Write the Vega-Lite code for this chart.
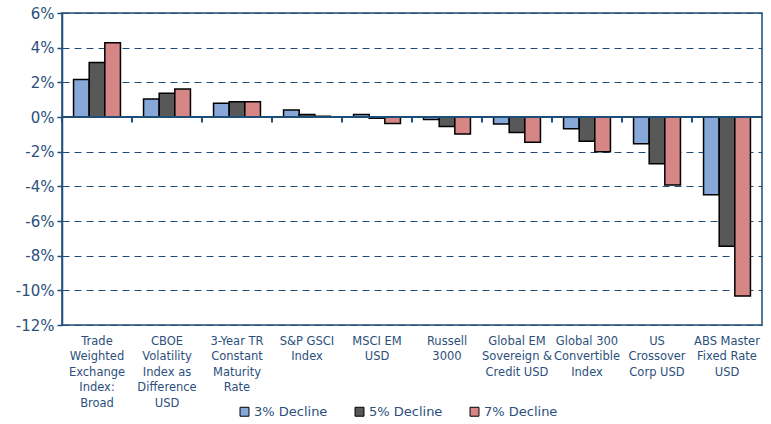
{
  "$schema": "https://vega.github.io/schema/vega-lite/v6.json",
  "width": 700,
  "height": 312,
  "autosize": "none",
  "padding": {"left": 62, "top": 13, "right": 9, "bottom": 99},
  "config": {"view": {"stroke": "#1f4e79", "strokeWidth": 1.5}, "font": "DejaVu Sans", "axisY": {"tickCount": 10}},
  "data": {"values": [
    {"category": "Trade|Weighted|Exchange|Index:|Broad", "scenario": "3% Decline", "value": 0.0217},
    {"category": "Trade|Weighted|Exchange|Index:|Broad", "scenario": "5% Decline", "value": 0.0315},
    {"category": "Trade|Weighted|Exchange|Index:|Broad", "scenario": "7% Decline", "value": 0.0428},
    {"category": "CBOE|Volatility|Index as|Difference|USD", "scenario": "3% Decline", "value": 0.0104},
    {"category": "CBOE|Volatility|Index as|Difference|USD", "scenario": "5% Decline", "value": 0.0137},
    {"category": "CBOE|Volatility|Index as|Difference|USD", "scenario": "7% Decline", "value": 0.0161},
    {"category": "3-Year TR|Constant|Maturity|Rate", "scenario": "3% Decline", "value": 0.008},
    {"category": "3-Year TR|Constant|Maturity|Rate", "scenario": "5% Decline", "value": 0.0088},
    {"category": "3-Year TR|Constant|Maturity|Rate", "scenario": "7% Decline", "value": 0.0088},
    {"category": "S&P GSCI|Index", "scenario": "3% Decline", "value": 0.004},
    {"category": "S&P GSCI|Index", "scenario": "5% Decline", "value": 0.0015},
    {"category": "S&P GSCI|Index", "scenario": "7% Decline", "value": 0.0005},
    {"category": "MSCI EM|USD", "scenario": "3% Decline", "value": 0.0015},
    {"category": "MSCI EM|USD", "scenario": "5% Decline", "value": -0.0007},
    {"category": "MSCI EM|USD", "scenario": "7% Decline", "value": -0.0038},
    {"category": "Russell|3000", "scenario": "3% Decline", "value": -0.0015},
    {"category": "Russell|3000", "scenario": "5% Decline", "value": -0.0055},
    {"category": "Russell|3000", "scenario": "7% Decline", "value": -0.0098},
    {"category": "Global EM|Sovereign &|Credit USD", "scenario": "3% Decline", "value": -0.004},
    {"category": "Global EM|Sovereign &|Credit USD", "scenario": "5% Decline", "value": -0.009},
    {"category": "Global EM|Sovereign &|Credit USD", "scenario": "7% Decline", "value": -0.0145},
    {"category": "Global 300|Convertible|Index", "scenario": "3% Decline", "value": -0.0068},
    {"category": "Global 300|Convertible|Index", "scenario": "5% Decline", "value": -0.014},
    {"category": "Global 300|Convertible|Index", "scenario": "7% Decline", "value": -0.02},
    {"category": "US|Crossover|Corp USD", "scenario": "3% Decline", "value": -0.0154},
    {"category": "US|Crossover|Corp USD", "scenario": "5% Decline", "value": -0.027},
    {"category": "US|Crossover|Corp USD", "scenario": "7% Decline", "value": -0.0392},
    {"category": "ABS Master|Fixed Rate|USD", "scenario": "3% Decline", "value": -0.0448},
    {"category": "ABS Master|Fixed Rate|USD", "scenario": "5% Decline", "value": -0.0746},
    {"category": "ABS Master|Fixed Rate|USD", "scenario": "7% Decline", "value": -0.1032}
  ]},
  "layer": [
    {
      "mark": {"type": "bar", "stroke": "#000000", "strokeWidth": 1.5},
      "encoding": {
        "x": {
          "field": "category", "type": "nominal", "sort": null,
          "scale": {"paddingInner": 0.33, "paddingOuter": 0.165},
          "axis": {"title": null, "labelAngle": 0, "domain": false, "ticks": false, "grid": false, "bandPosition": 0.5,
                   "labelExpr": "split(datum.label, '|')", "labelFontSize": 11.5, "labelColor": "#2c4f7c",
                   "labelLineHeight": 15.5, "labelPadding": 10, "labelBaseline": "top", "labelLimit": 0}
        },
        "xOffset": {"field": "scenario", "type": "nominal", "sort": null},
        "y": {
          "field": "value", "type": "quantitative",
          "scale": {"domain": [-0.12, 0.06], "nice": false},
          "axis": {"title": null, "values": [-0.12, -0.1, -0.08, -0.06, -0.04, -0.02, 0, 0.02, 0.04, 0.06], "tickCount": 10,
                   "labelExpr": "replace(format(datum.value, '.0%'), '−', '-')", "labelOverlap": false,
                   "grid": true, "gridDash": [7, 5], "gridColor": "#1f4e79", "gridWidth": 1.2,
                   "domainColor": "#1f4e79", "domainWidth": 1.5, "tickColor": "#1f4e79", "tickSize": 5, "tickWidth": 1.5,
                   "labelFontSize": 15, "labelColor": "#2c4f7c", "labelPadding": 3}
        },
        "color": {
          "field": "scenario", "type": "nominal",
          "scale": {"domain": ["3% Decline", "5% Decline", "7% Decline"], "range": ["#87a8d8", "#585858", "#d68684"]},
          "legend": {"orient": "none", "legendX": 176, "legendY": 392, "direction": "horizontal", "title": null,
                     "symbolType": "square", "symbolSize": 80, "symbolStrokeColor": "#000000", "symbolStrokeWidth": 1,
                     "labelFontSize": 13, "labelColor": "#2c4f7c", "columnPadding": 25, "labelOffset": 3}
        }
      }
    },
    {
      "mark": {"type": "rule", "color": "#1f4e79", "strokeWidth": 1.5},
      "encoding": {
        "x": {"field": "category", "type": "nominal", "sort": null, "bandPosition": -0.2463,
              "axis": {"title": null, "labelAngle": 0, "domain": false, "ticks": false, "grid": false, "bandPosition": 0.5,
                       "labelExpr": "split(datum.label, '|')", "labelFontSize": 11.5, "labelColor": "#2c4f7c",
                       "labelLineHeight": 15.5, "labelPadding": 10, "labelBaseline": "top", "labelLimit": 0}},
        "y": {"datum": 0, "type": "quantitative"},
        "y2": {"datum": -0.003}
      }
    },
    {
      "mark": {"type": "rule", "color": "#1f4e79", "strokeWidth": 1.5},
      "encoding": {"y": {"datum": 0, "type": "quantitative"}}
    }
  ]
}
